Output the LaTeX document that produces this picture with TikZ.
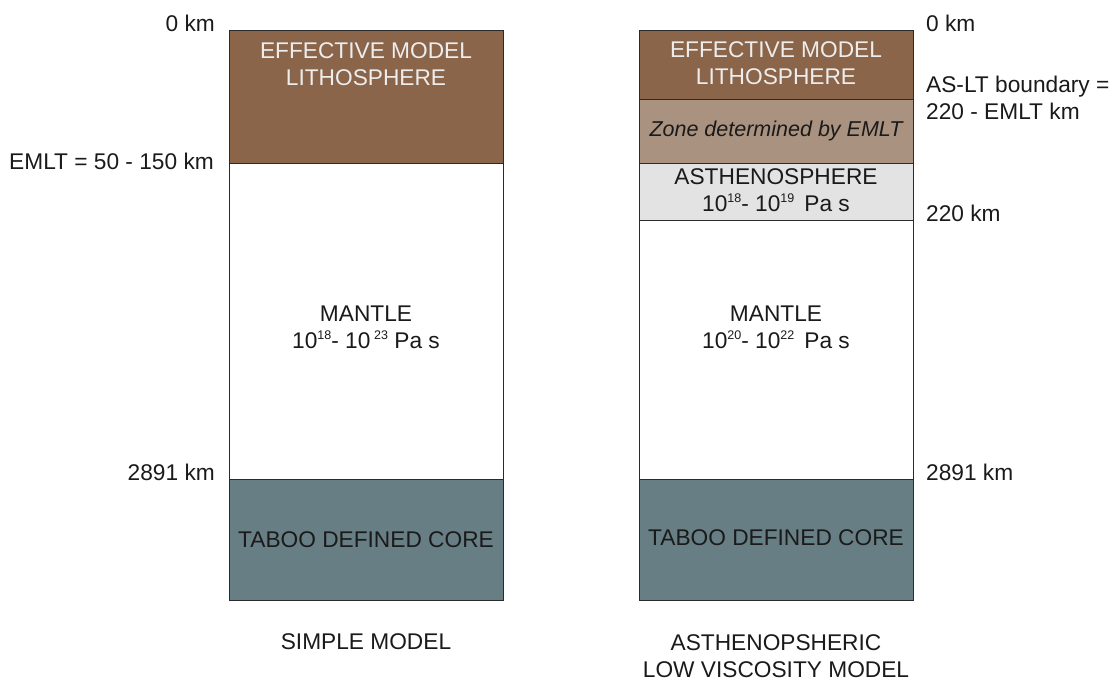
\documentclass[tikz,border=0pt]{standalone}
\usepackage{fontspec}
\setmainfont{Liberation Sans}
\definecolor{lithc}{HTML}{8B654A}
\definecolor{zonec}{HTML}{A99280}
\definecolor{asthc}{HTML}{E3E3E3}
\definecolor{corec}{HTML}{677F84}
\definecolor{edgec}{HTML}{2B2B2B}
\definecolor{txtc}{HTML}{1A1A1A}
\newcommand{\myexp}[1]{\raisebox{0.75ex}{\fontsize{12.5}{12.5}\selectfont #1}}
\begin{document}
\begin{tikzpicture}[x=1pt,y=-1pt,
  layer/.style={draw=edgec,line width=1.3pt,anchor=north west,inner sep=0pt,minimum width=274pt},
  lbl/.style={font=\fontsize{22.7}{27}\selectfont,text=txtc,inner sep=0pt,align=center},
  wlbl/.style={lbl,text=white!93!black},
  sidel/.style={lbl,align=left}]
\useasboundingbox (0,0) rectangle (1112,687);
% ---------- simple model ----------
\node[layer,fill=white,minimum height=316pt] (smantle) at (229,163) {};
\node[layer,fill=lithc,minimum height=133pt] (slith) at (229,30) {};
\node[layer,fill=corec,minimum height=121pt] (score) at (229,479) {};
\node[wlbl] (slitht) at (366,64) {EFFECTIVE MODEL\\LITHOSPHERE};
\node[lbl] (smantlet) at (366,327) {MANTLE\\10\myexp{18}- 10\,\myexp{23} Pa s};
\node[lbl] (scoret) at (366,540) {TABOO DEFINED CORE};
\node[lbl] (stitle) at (366,642) {SIMPLE MODEL};
\node[lbl,anchor=east] (s0) at (215,23) {0 km};
\node[lbl,anchor=east] (semlt) at (214,161) {EMLT = 50 - 150 km};
\node[lbl,anchor=east] (s2891) at (215,472) {2891 km};
% ---------- low viscosity model ----------
\node[layer,fill=white,minimum height=259pt] (rmantle) at (639,220) {};
\node[layer,fill=asthc,minimum height=57pt] (rasth) at (639,163) {};
\node[layer,fill=zonec,minimum height=64pt] (rzone) at (639,99) {};
\node[layer,fill=lithc,minimum height=69pt] (rlith) at (639,30) {};
\node[layer,fill=corec,minimum height=121pt] (rcore) at (639,479) {};
\node[wlbl] (rlitht) at (776,63) {EFFECTIVE MODEL\\LITHOSPHERE};
\node[lbl,font=\fontsize{21.5}{27}\selectfont\itshape] (rzonet) at (776,131) {Zone determined by EMLT};
\node[lbl] (rastht) at (776,190) {ASTHENOSPHERE\\10\myexp{18}- 10\myexp{19}\, Pa s};
\node[lbl] (rmantlet) at (776,327) {MANTLE\\10\myexp{20}- 10\myexp{22}\, Pa s};
\node[lbl] (rcoret) at (776,538) {TABOO DEFINED CORE};
\node[lbl] (rtitle) at (776,656) {ASTHENOPSHERIC\\LOW VISCOSITY MODEL};
\node[sidel,anchor=west] (r0) at (926,23) {0 km};
\node[sidel,anchor=west] (rbound) at (926,98) {AS-LT boundary =\\220 - EMLT km};
\node[sidel,anchor=west] (r220) at (926,213) {220 km};
\node[sidel,anchor=west] (r2891) at (926,472) {2891 km};
\end{tikzpicture}
\end{document}
